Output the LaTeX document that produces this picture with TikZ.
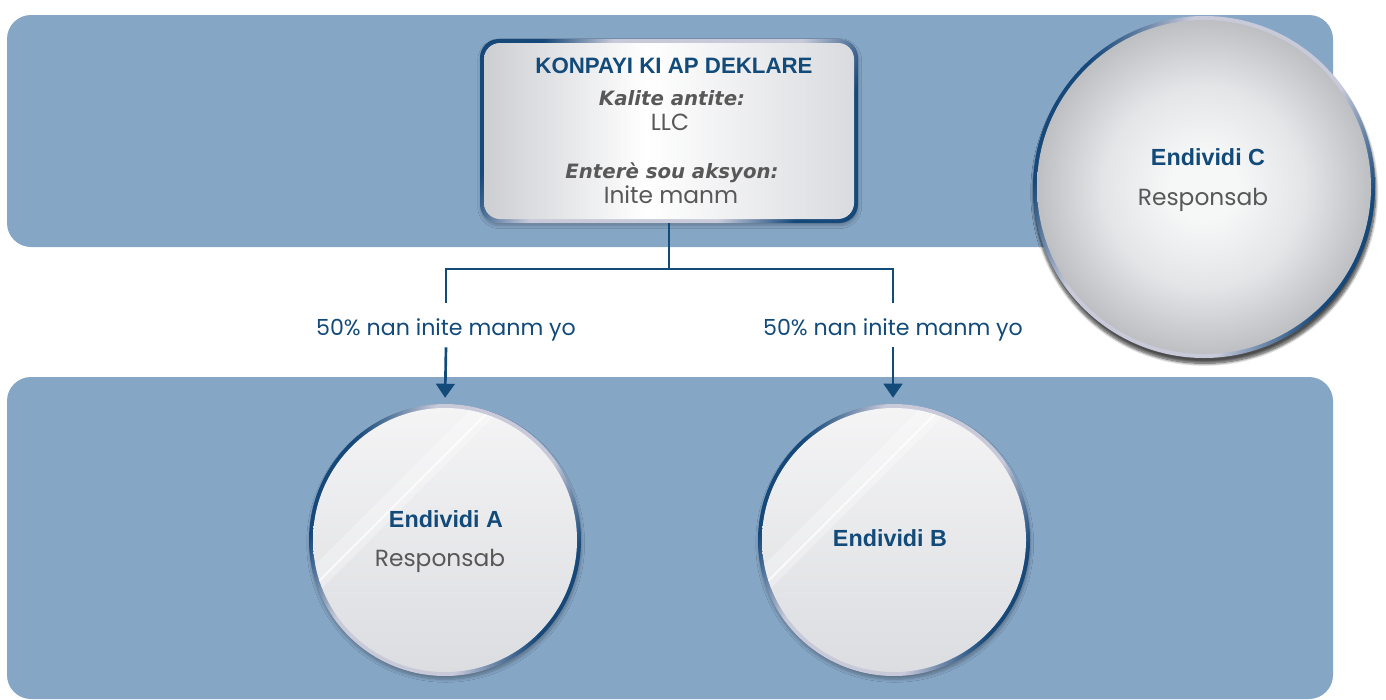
\documentclass[tikz,border=0pt]{standalone}
\usepackage{fontspec}
\setmainfont{Poppins}
\newfontfamily\hfont{Liberation Sans}
\newfontfamily\vfont{DejaVu Sans}
\usetikzlibrary{arrows.meta,shadows.blur}
\definecolor{bandblue}{RGB}{134,166,198}
\definecolor{navy}{RGB}{18,74,122}
\definecolor{rimdark}{RGB}{22,72,122}
\definecolor{rimlight}{RGB}{200,202,218}
\definecolor{txtgray}{RGB}{88,88,88}
\definecolor{gTop}{RGB}{244,244,245}
\definecolor{gBot}{RGB}{220,221,225}
\definecolor{bxA}{RGB}{205,206,210}
\definecolor{bxB}{RGB}{218,219,223}
\definecolor{cA}{RGB}{246,247,247}
\definecolor{cB}{RGB}{228,229,231}
\definecolor{cC}{RGB}{190,191,195}
\pgfdeclarehorizontalshading{rimshade}{100bp}{color(0bp)=(rimdark); color(27bp)=(rimdark); color(38bp)=(rimlight); color(62bp)=(rimlight); color(73bp)=(rimdark); color(100bp)=(rimdark)}
\pgfdeclarehorizontalshading{frameshade}{100bp}{color(0bp)=(rimdark); color(26bp)=(rimdark); color(36bp)=(rimlight); color(63bp)=(rimlight); color(74bp)=(rimdark); color(100bp)=(rimdark)}
\pgfdeclarehorizontalshading{boxshade}{100bp}{color(0bp)=(bxA); color(25bp)=(bxA); color(47bp)=(white); color(75bp)=(bxB); color(100bp)=(bxB)}
\pgfdeclareradialshading{cshade}{\pgfpoint{0bp}{0bp}}{color(0bp)=(cA); color(5bp)=(cA); color(15bp)=(cB); color(25bp)=(cC); color(50bp)=(cC)}
\begin{document}
\begin{tikzpicture}[x=0.75pt,y=0.75pt,
  bandbox/.style={fill=bandblue, rounded corners=18pt, minimum width=994.5pt, inner sep=0pt, draw=none},
  rim/.style={circle, inner sep=0pt, shade, shading=rimshade, shading angle=-25,
    blur shadow={shadow blur steps=8, shadow xshift=0.5pt, shadow yshift=-2.5pt, shadow opacity=30}},
  disc/.style={circle, inner sep=0pt, top color=gTop, bottom color=gBot,
    path picture={
      \draw[white, line width=16pt, opacity=0.3]
        ([shift={(-205,-115)}]path picture bounding box.center) -- ([shift={(95,185)}]path picture bounding box.center);
      \draw[white, line width=1.6pt, opacity=0.7]
        ([shift={(-190,-105)}]path picture bounding box.center) -- ([shift={(110,195)}]path picture bounding box.center);
    }},
  cdisc/.style={circle, inner sep=0pt, shade, shading=cshade},
  conn/.style={draw=navy, line width=2pt},
  lbl/.style={font=\fontsize{16.6}{19}\selectfont, text=navy, inner sep=0pt, text height=24pt, text depth=9pt, anchor=base},
  who/.style={font=\hfont\bfseries\fontsize{17.5}{20}\selectfont, text=navy, anchor=base, inner sep=0pt},
  reg/.style={font=\fontsize{17.5}{20}\selectfont, text=txtgray, anchor=base, inner sep=0pt},
  ital/.style={font=\vfont\bfseries\itshape\fontsize{14.8}{17}\selectfont, text=txtgray, anchor=base, inner sep=0pt},
  tip/.style={-{Triangle[width=14pt,length=10.5pt]}}
]
\useasboundingbox (0,0) rectangle (1386,-700);
% bands
\node[bandbox, minimum height=174pt] (topband) at (670,-131) {};
\node[bandbox, minimum height=241.5pt] (botband) at (670,-538) {};
% company box
\node[rounded corners=14pt, minimum width=283.5pt, minimum height=138pt, inner sep=0pt,
  shade, shading=frameshade, shading angle=-25,
  blur shadow={shadow blur steps=6, shadow xshift=0.5pt, shadow yshift=-2pt, shadow opacity=25}] (frame) at (669,-131) {};
\node[rounded corners=12pt, minimum width=277.5pt, minimum height=132pt, inner sep=0pt,
  shade, shading=boxshade] (box) at (669,-131) {};
\node[anchor=base, inner sep=0pt, font=\hfont\bfseries\fontsize{16.7}{19}\selectfont, text=navy] (t1) at (674,-73) {KONPAYI KI AP DEKLARE};
\node[ital] (t2) at (672,-105) {Kalite antite:};
\node[reg] (t3) at (670,-130) {LLC};
\node[ital] (t4) at (672,-178) {Enterè sou aksyon:};
\node[reg] (t5) at (671,-203) {Inite manm};
% circle C
\node[rim, minimum size=256.5pt, blur shadow={shadow blur steps=10, shadow xshift=0.5pt, shadow yshift=-4pt, shadow opacity=45}] (C) at (1204,-187) {};
\node[cdisc, minimum size=250.5pt] (Cin) at (1204,-187) {};
\node[who] (Cname) at (1208,-165) {Endividi C};
\node[reg] (Crole) at (1203,-205) {Responsab};
% circles A and B
\node[rim, minimum size=204pt] (A) at (445,-540) {};
\node[disc, minimum size=198pt] (Ain) at (445,-540) {};
\node[who] (Aname) at (446,-527) {Endividi A};
\node[reg] (Arole) at (440,-566) {Responsab};
\node[rim, minimum size=204pt] (B) at (894,-540) {};
\node[disc, minimum size=198pt] (Bin) at (894,-540) {};
\node[who] (Bname) at (890,-546) {Endividi B};
% labels
\node[lbl] (lblA) at (446,-335) {50\% nan inite manm yo};
\node[lbl] (lblB) at (893,-335) {50\% nan inite manm yo};
% connectors
\coordinate (j) at (669,-269);
\draw[conn] (frame.south) -- (j) -| (lblA.north);
\draw[conn] (j) -| (lblB.north);
\draw[conn, tip, shorten >=4.5pt] (lblA.south) -- (A.north);
\draw[conn, tip, shorten >=4.5pt] (lblB.south) -- (lblB.south |- B.north);
\end{tikzpicture}
\end{document}
